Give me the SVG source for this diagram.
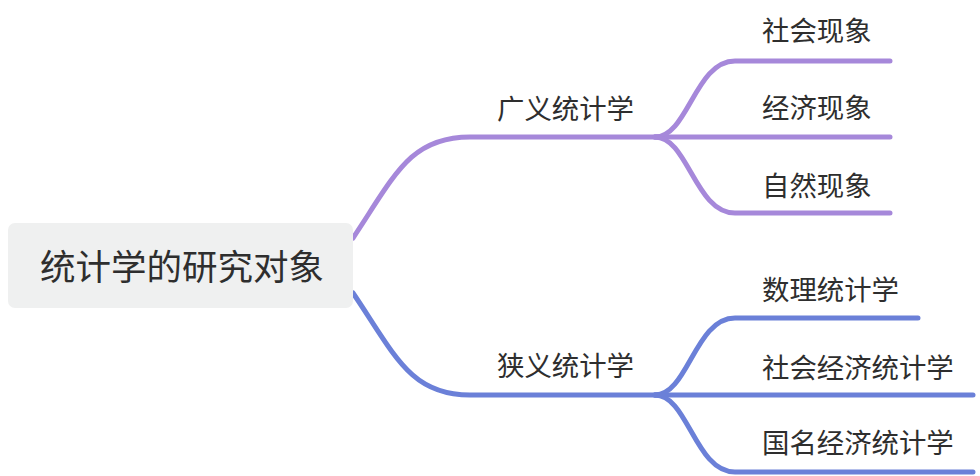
<svg xmlns="http://www.w3.org/2000/svg" width="980" height="476" viewBox="0 0 980 476">
<style>
.t{font-family:"Noto Sans CJK SC","Noto Sans",sans-serif;fill:#2e2e2e}
.c{fill:none;stroke-width:5;stroke-linecap:round;stroke-linejoin:round}
.p{stroke:#a688da}
.b{stroke:#6b80d8}
</style>
<rect width="980" height="476" fill="#ffffff"/>
<g id="connectors">
<path class="c p" d="M353,238 C395,175 410,137 470,137 L660,137"/>
<path class="c b" d="M353,293 C395,355 410,395 470,395 L660,395"/>
<path class="c p" d="M655,137 C688,137 695,61 735,61 L890,61"/>
<path class="c p" d="M655,137 L890,137"/>
<path class="c p" d="M655,137 C688,137 695,213 735,213 L890,213"/>
<path class="c b" d="M655,395 C688,395 695,318 735,318 L918,318"/>
<path class="c b" d="M655,395 L973,395"/>
<path class="c b" d="M655,395 C688,395 695,472 735,472 L973,472"/>
</g>
<g id="root">
<rect x="8" y="223" width="345" height="85" rx="7" fill="#eff0f0"/>
<text class="t" x="40" y="280" font-size="35.5">统计学的研究对象</text>
</g>
<g id="n-broad"><text class="t" x="497" y="119" font-size="27.4">广义统计学</text></g>
<g id="n-narrow"><text class="t" x="497" y="376" font-size="27.4">狭义统计学</text></g>
<g id="n-social"><text class="t" x="762" y="41" font-size="27.4">社会现象</text></g>
<g id="n-economic"><text class="t" x="762" y="118" font-size="27.4">经济现象</text></g>
<g id="n-natural"><text class="t" x="762" y="196" font-size="27.4">自然现象</text></g>
<g id="n-math"><text class="t" x="762" y="300" font-size="27.4">数理统计学</text></g>
<g id="n-socecon"><text class="t" x="762" y="378" font-size="27.4">社会经济统计学</text></g>
<g id="n-natecon"><text class="t" x="762" y="453" font-size="27.4">国名经济统计学</text></g>
</svg>
